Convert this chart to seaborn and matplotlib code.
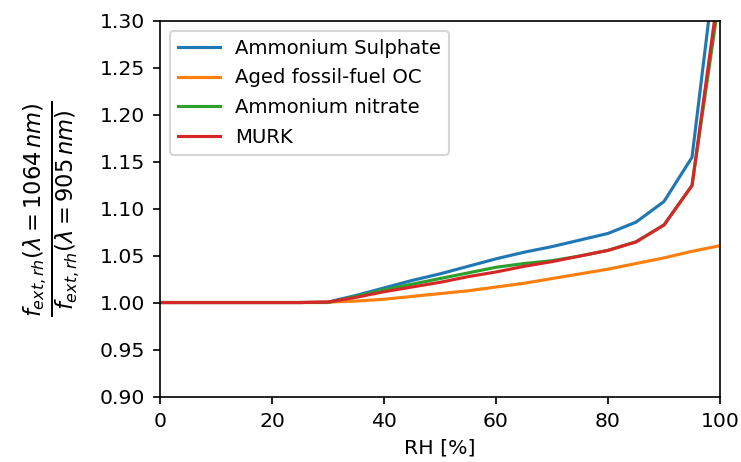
import numpy as np
import pandas as pd
import matplotlib
matplotlib.use("Agg")
import matplotlib.pyplot as plt
import seaborn as sns

rh = [0, 5, 10, 15, 20, 25, 30, 35, 40, 45, 50, 55, 60, 65, 70, 75, 80, 85, 90, 95, 100]
ammonium_sulphate = [1.0005, 1.0005, 1.0005, 1.0005, 1.0005, 1.0005, 1.001, 1.008, 1.016, 1.024, 1.031,
                     1.039, 1.047, 1.054, 1.060, 1.067, 1.074, 1.086, 1.108, 1.155, 1.400]
aged_ff_oc = [1.0005, 1.0005, 1.0005, 1.0005, 1.0005, 1.0005, 1.001, 1.002, 1.004, 1.007, 1.010,
              1.013, 1.017, 1.021, 1.026, 1.031, 1.036, 1.042, 1.048, 1.055, 1.061]
ammonium_nitrate = [1.0005, 1.0005, 1.0005, 1.0005, 1.0005, 1.0005, 1.0005, 1.007, 1.014, 1.020, 1.026,
                    1.032, 1.038, 1.042, 1.045, 1.050, 1.056, 1.065, 1.083, 1.125, 1.330]
murk = [1.0005, 1.0005, 1.0005, 1.0005, 1.0005, 1.0005, 1.001, 1.006, 1.012, 1.017, 1.022,
        1.028, 1.033, 1.039, 1.044, 1.050, 1.056, 1.065, 1.083, 1.125, 1.344]

series = {
    "Ammonium Sulphate": ammonium_sulphate,
    "Aged fossil-fuel OC": aged_ff_oc,
    "Ammonium nitrate": ammonium_nitrate,
    "MURK": murk,
}
rows = []
for name, vals in series.items():
    for x, y in zip(rh, vals):
        rows.append({"RH": x, "ratio": y, "aerosol": name})
df = pd.DataFrame(rows)

fig = plt.figure(figsize=(741 / 150, 462 / 150), dpi=150)
ax = fig.add_axes([160 / 741, 1 - 397 / 462, 560 / 741, 376 / 462])
palette = ["#1f77b4", "#ff7f0e", "#2ca02c", "#d62728"]
sns.lineplot(data=df, x="RH", y="ratio", hue="aerosol", palette=palette, ax=ax,
             sort=False, estimator=None, linewidth=1.5)
ax.set_xlim(0, 100)
ax.set_ylim(0.9, 1.3)
ax.set_xticks([0, 20, 40, 60, 80, 100])
ax.set_yticks(np.arange(0.90, 1.301, 0.05))
ax.tick_params(labelsize=9.8)
ax.set_xlabel("RH [%]", fontsize=9.8)
ax.set_ylabel(r"$\frac{f_{ext,rh}(\lambda=1064\,nm)}{f_{ext,rh}(\lambda=905\,nm)}$",
              fontsize=15.5, labelpad=8)
ax.legend(loc="upper left", title=None, fontsize=9.4, handlelength=2.15, labelspacing=0.55)
fig.savefig("out.png", dpi=150)
